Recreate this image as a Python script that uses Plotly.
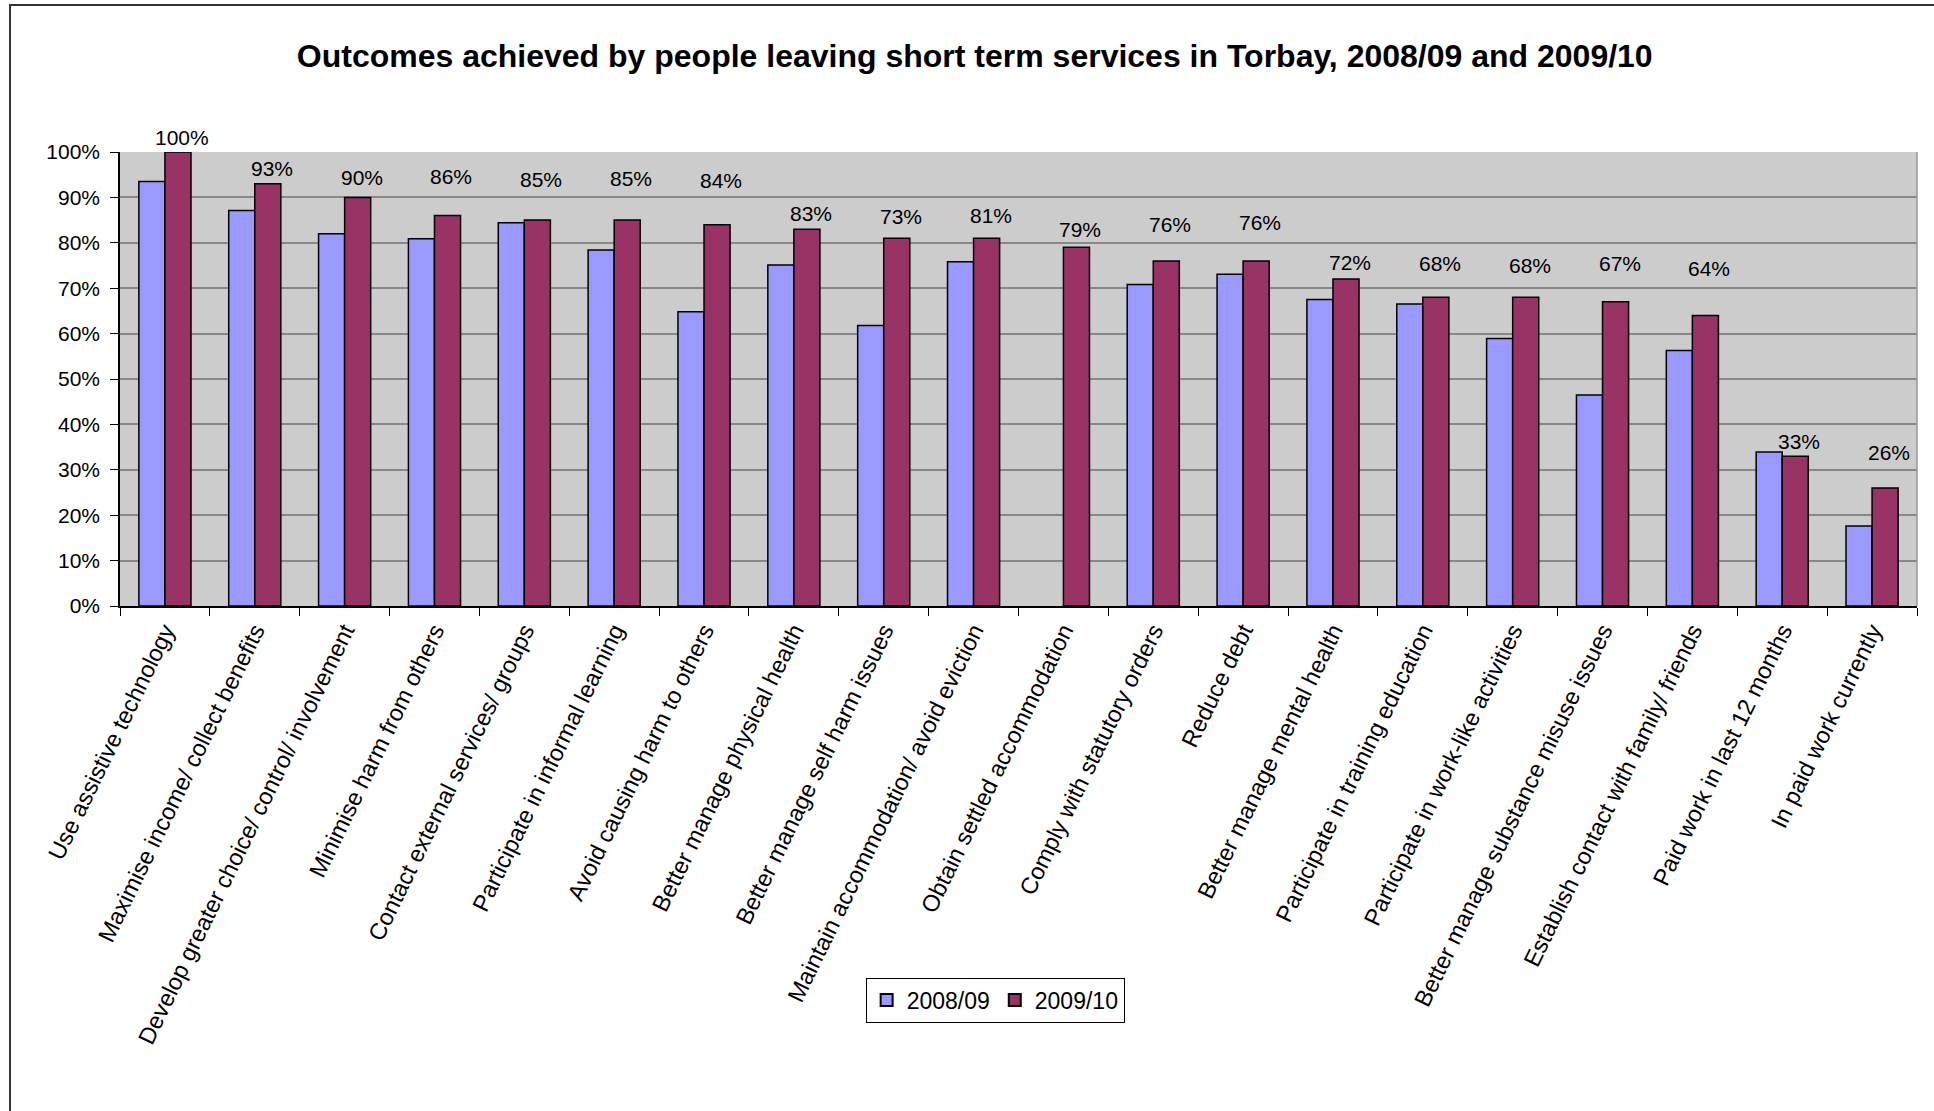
import plotly.graph_objects as go

categories = [
    "Use assistive technology",
    "Maximise income/ collect benefits",
    "Develop greater choice/ control/ involvement",
    "Minimise harm from others",
    "Contact external services/ groups",
    "Participate in informal learning",
    "Avoid causing harm to others",
    "Better manage physical health",
    "Better manage self harm issues",
    "Maintain accommodation/ avoid eviction",
    "Obtain settled accommodation",
    "Comply with statutory orders",
    "Reduce debt",
    "Better manage mental health",
    "Participate in training education",
    "Participate in work-like activities",
    "Better manage substance misuse issues",
    "Establish contact with family/ friends",
    "Paid work in last 12 months",
    "In paid work currently",
]

values_2008_09 = [93.5, 87.1, 82.0, 80.9, 84.4, 78.4, 64.8, 75.1, 61.8, 75.8,
                  None, 70.8, 73.1, 67.5, 66.5, 58.9, 46.5, 56.3, 33.9, 17.6]
values_2009_10 = [100, 93, 90, 86, 85, 85, 84, 83, 81, 81,
                  79, 76, 76, 72, 68, 68, 67, 64, 33, 26]

# data labels as printed on the chart (2009/10 series)
label_texts = ["100%", "93%", "90%", "86%", "85%", "85%", "84%", "83%", "73%", "81%",
               "79%", "76%", "76%", "72%", "68%", "68%", "67%", "64%", "33%", "26%"]

y_ticks = [0, 10, 20, 30, 40, 50, 60, 70, 80, 90, 100]
y_tick_labels = ["0%", "10%", "20%", "30%", "40%", "50%", "60%", "70%", "80%", "90%", "100%"]

# label heights (axis units) as placed in the reference
label_heights = [103.2, 96.4, 94.3, 94.6, 94.0, 94.1, 93.8, 86.5, 85.7, 86.1,
                 82.9, 84.0, 84.5, 75.7, 75.4, 75.1, 75.4, 74.3, 36.2, 33.9]

Y_MAX = 100
FONT = "Liberation Sans, Arial, sans-serif"

fig = go.Figure()
fig.add_trace(go.Bar(
    name="2008/09", x=categories, y=values_2008_09,
    marker=dict(color="#9999FF", line=dict(color="#000000", width=1.5)),
))
fig.add_trace(go.Bar(
    name="2009/10", x=categories, y=values_2009_10,
    marker=dict(color="#993366", line=dict(color="#000000", width=1.5)),
))

for cat, txt, h in zip(categories, label_texts, label_heights):
    fig.add_annotation(x=cat, xref="x", y=h / Y_MAX, yref="y domain", text=txt,
                       showarrow=False, xshift=17,
                       yanchor="middle", xanchor="center",
                       font=dict(family=FONT, size=21, color="#000000"))

# plot area right border
fig.add_shape(type="line", xref="x domain", yref="y domain", x0=1, x1=1, y0=0, y1=1,
              line=dict(color="#999999", width=1.5))
# outer chart frame (left and top visible)
fig.add_shape(type="rect", xref="paper", yref="paper",
              x0=-0.0612, x1=1.2, y0=-2.0, y1=1.3238,
              line=dict(color="#333333", width=2), fillcolor="rgba(0,0,0,0)", layer="above")

fig.update_layout(
    width=1934, height=1111,
    margin=dict(l=120, r=17, t=152, b=505),
    paper_bgcolor="#FFFFFF",
    plot_bgcolor="#CCCCCC",
    barmode="group", bargap=0.42, bargroupgap=0,
    title=dict(text="<b>Outcomes achieved by people leaving short term services in Torbay, 2008/09 and 2009/10</b>",
               x=0.504, xanchor="center", y=1 - 56 / 1111, yanchor="middle",
               font=dict(family=FONT, size=32, color="#000000")),
    font=dict(family=FONT, color="#000000"),
    showlegend=True,
    legend=dict(orientation="h", x=0.487, xanchor="center", y=-0.868, yanchor="middle",
                bgcolor="#FFFFFF", bordercolor="#000000", borderwidth=1,
                font=dict(family=FONT, size=23, color="#000000"),
                itemsizing="constant"),
)

fig.update_xaxes(
    type="category", tickangle=-64, tickson="boundaries",
    ticks="outside", ticklen=8, tickcolor="#000000",
    showline=True, linecolor="#000000", linewidth=1.5,
    showgrid=False,
    tickfont=dict(family=FONT, size=23.5, color="#000000"),
)
fig.update_yaxes(
    range=[0, Y_MAX], tickvals=y_ticks, ticktext=y_tick_labels,
    ticks="outside", ticklen=8, tickcolor="#000000",
    showline=True, linecolor="#000000", linewidth=1.5,
    showgrid=True, gridcolor="#888888", gridwidth=1.5,
    zeroline=False, ticklabelstandoff=6,
    tickfont=dict(family=FONT, size=21, color="#000000"),
)

fig.write_html("out.html")
